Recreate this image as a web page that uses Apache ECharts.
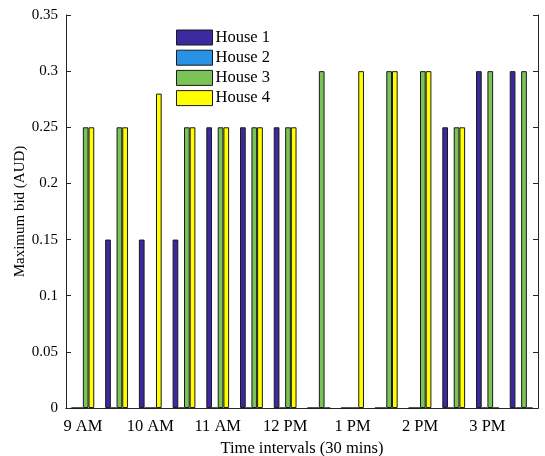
<!DOCTYPE html>
<html>
<head>
  <meta charset="utf-8">
  <title>Maximum bid</title>
  <script src="https://cdn.jsdelivr.net/npm/echarts@6/dist/echarts.min.js"></script>
  <style>
    html, body, #main { width: 545px; height: 456px; margin: 0; padding: 0; background: #fff; }
  </style>
</head>
<body>
  <div id="main"></div>
  <script>
    // half-hour slots, 9:00 .. 15:30
    const times = ['9:00', '9:30', '10:00', '10:30', '11:00', '11:30', '12:00',
                   '12:30', '13:00', '13:30', '14:00', '14:30', '15:00', '15:30'];
    const tickLabels = ['9 AM', '', '10 AM', '', '11 AM', '', '12 PM', '', '1 PM', '', '2 PM', '', '3 PM', ''];
    const house1 = [0, 0.15, 0.15, 0.15, 0.25, 0.25, 0.25, 0, 0, 0, 0, 0.25, 0.3, 0.3];
    const house2 = [0, 0, 0, 0, 0, 0, 0, 0, 0, 0, 0, 0, 0, 0];
    const house3 = [0.25, 0.25, 0, 0.25, 0.25, 0.25, 0.25, 0.3, 0, 0.3, 0.3, 0.25, 0.3, 0.3];
    const house4 = [0.25, 0.25, 0.28, 0.25, 0.25, 0.25, 0.25, 0, 0.3, 0.3, 0.3, 0.25, 0, 0];
    const yTicks = { min: 0, max: 0.35, interval: 0.05 };

    const font = 'Liberation Serif';
    const axisColor = '#262626';
    const names = ['House 1', 'House 2', 'House 3', 'House 4'];
    const colors = ['#3b2a9f', '#2a92e6', '#7ac457', '#ffff00'];
    const values = [house1, house2, house3, house4];

    const chart = echarts.init(document.getElementById('main'), null, { renderer: 'canvas' });

    const series = names.map((n, i) => ({
      name: n,
      type: 'bar',
      data: values[i],
      barWidth: 5.7,
      barGap: '0%',
      itemStyle: { color: colors[i], borderColor: '#1a1a1a', borderWidth: 1 }
    }));

    chart.setOption({
      animation: false,
      backgroundColor: '#fff',
      grid: { left: 66, right: 7, top: 15, bottom: 48, outerBoundsMode: 'none' },
      legend: {
        orient: 'vertical',
        left: 171,
        top: 24,
        itemWidth: 36,
        itemHeight: 15,
        itemGap: 3.2,
        icon: 'rect',
        data: names,
        itemStyle: { borderColor: '#1a1a1a', borderWidth: 1 },
        textStyle: { fontFamily: font, fontSize: 16.5, lineHeight: 15, color: '#000', padding: [0, 0, 0, -2] }
      },
      xAxis: [{
        type: 'category',
        data: times,
        position: 'bottom',
        name: 'Time intervals (30 mins)',
        nameLocation: 'middle',
        nameGap: 32,
        nameMoveOverlap: false,
        nameTextStyle: { fontFamily: font, fontSize: 16.5, color: '#000' },
        axisLine: { lineStyle: { color: axisColor } },
        axisTick: { inside: true, length: 5, interval: 1, alignWithLabel: true, lineStyle: { color: axisColor } },
        axisLabel: {
          interval: 1,
          margin: 10,
          fontFamily: font, fontSize: 16.5, color: '#000',
          formatter: (v, idx) => tickLabels[idx]
        }
      }, {
        type: 'category',
        data: times,
        position: 'top',
        axisLine: { lineStyle: { color: axisColor } },
        axisTick: { inside: true, length: 5, interval: 1, alignWithLabel: true, lineStyle: { color: axisColor } },
        axisLabel: { show: false }
      }],
      yAxis: [{
        type: 'value',
        min: yTicks.min, max: yTicks.max, interval: yTicks.interval,
        name: 'Maximum bid (AUD)',
        nameLocation: 'middle',
        nameGap: 38,
        nameMoveOverlap: false,
        nameTextStyle: { fontFamily: font, fontSize: 15, color: '#000' },
        axisLine: { show: true, lineStyle: { color: axisColor } },
        axisTick: { show: true, inside: true, length: 5, lineStyle: { color: axisColor } },
        splitLine: { show: false },
        axisLabel: { margin: 8, fontFamily: font, fontSize: 15, color: '#000' }
      }, {
        type: 'value',
        position: 'right',
        min: yTicks.min, max: yTicks.max, interval: yTicks.interval,
        axisLine: { show: true, lineStyle: { color: axisColor } },
        axisTick: { show: true, inside: true, length: 5, lineStyle: { color: axisColor } },
        splitLine: { show: false },
        axisLabel: { show: false }
      }],
      series: series
    });
  </script>
</body>
</html>
